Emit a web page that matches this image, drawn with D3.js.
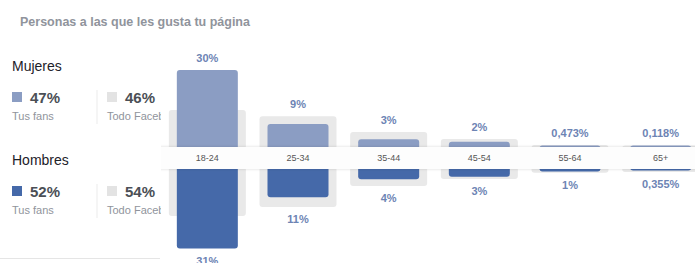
<!DOCTYPE html>
<html>
<head>
<meta charset="utf-8">
<script src="https://cdn.jsdelivr.net/npm/d3@7"></script>
<style>
  body { margin: 0; background: #fff; }
  text { font-family: "Liberation Sans", Arial, sans-serif; }
</style>
</head>
<body>
<div id="chart"></div>
<script>
var svgWidth = 695;
var svgHeight = 263;

// data
var ageGroups = ["18-24", "25-34", "35-44", "45-54", "55-64", "65+"];
var womenFans = [30, 9, 3, 2, 0.473, 0.118];
var menFans = [31, 11, 4, 3, 1, 0.355];
var womenAll = [14.4, 12, 5.8, 3.1, 0.8, 0.6];
var menAll = [18.3, 14.8, 6.6, 3.9, 1.5, 1.2];
var womenLabels = ["30%", "9%", "3%", "2%", "0,473%", "0,118%"];
var menLabels = ["31%", "11%", "4%", "3%", "1%", "0,355%"];
var summary = [
  { name: "Mujeres", fans: "47%", all: "46%" },
  { name: "Hombres", fans: "52%", all: "54%" }
];

var upColor = "#8b9dc3";
var downColor = "#4569a9";
var greyColor = "#e9e9e9";
var labelColor = "#6d84b4";

var bandTop = 147;
var bandBottom = 169;

var svg = d3.select("#chart").append("svg")
  .attr("width", svgWidth)
  .attr("height", svgHeight);

// title
svg.append("text")
  .attr("x", 20)
  .attr("y", 26)
  .attr("font-size", 12.5)
  .attr("font-weight", "bold")
  .attr("fill", "#90949c")
  .text("Personas a las que les gusta tu página");

// scales
var x = d3.scaleBand()
  .domain(ageGroups)
  .range([162, 706]);

var len = d3.scaleLinear()
  .domain([0, 30])
  .range([0, 77]);

var data = ageGroups.map(function(g, i) {
  return {
    age: g,
    wf: womenFans[i], mf: menFans[i],
    wa: womenAll[i], ma: menAll[i],
    wl: womenLabels[i], ml: menLabels[i]
  };
});

var chart = svg.append("g");

var greyW = 77, fanW = 61, r = 3;

// grey "todo facebook" bars, upper
chart.selectAll(".grey-up").data(data).enter().append("rect")
  .attr("x", d => x(d.age) + x.bandwidth() / 2 - greyW / 2)
  .attr("y", d => bandTop - len(d.wa))
  .attr("width", greyW)
  .attr("height", d => len(d.wa) + 4)
  .attr("rx", r)
  .attr("fill", greyColor);

// grey bars, lower
chart.selectAll(".grey-down").data(data).enter().append("rect")
  .attr("x", d => x(d.age) + x.bandwidth() / 2 - greyW / 2)
  .attr("y", bandBottom - 4)
  .attr("width", greyW)
  .attr("height", d => len(d.ma) + 4)
  .attr("rx", r)
  .attr("fill", greyColor);

// fan bars, women
chart.selectAll(".women").data(data).enter().append("rect")
  .attr("x", d => x(d.age) + x.bandwidth() / 2 - fanW / 2)
  .attr("y", d => bandTop - Math.max(len(d.wf), 1.5))
  .attr("width", fanW)
  .attr("height", d => Math.max(len(d.wf), 1.5) + 4)
  .attr("rx", r)
  .attr("fill", upColor);

// fan bars, men
chart.selectAll(".men").data(data).enter().append("rect")
  .attr("x", d => x(d.age) + x.bandwidth() / 2 - fanW / 2)
  .attr("y", bandBottom - 4)
  .attr("width", fanW)
  .attr("height", d => Math.max(len(d.mf), 1.5) + 4)
  .attr("rx", r)
  .attr("fill", downColor);

// percentage labels
chart.selectAll(".lab-up").data(data).enter().append("text")
  .attr("x", d => x(d.age) + x.bandwidth() / 2)
  .attr("y", d => bandTop - Math.max(len(d.wf), len(d.wa)) - 8)
  .attr("text-anchor", "middle")
  .attr("font-size", 11)
  .attr("font-weight", "bold")
  .attr("fill", labelColor)
  .text(d => d.wl);

chart.selectAll(".lab-down").data(data).enter().append("text")
  .attr("x", d => x(d.age) + x.bandwidth() / 2)
  .attr("y", d => bandBottom + Math.max(len(d.mf), len(d.ma)) + 16)
  .attr("text-anchor", "middle")
  .attr("font-size", 11)
  .attr("font-weight", "bold")
  .attr("fill", labelColor)
  .text(d => d.ml);

// center band with age labels
var defs = svg.append("defs");
var shadow = defs.append("filter").attr("id", "shadow")
  .attr("x", "-5%").attr("y", "-50%").attr("width", "110%").attr("height", "200%");
shadow.append("feDropShadow")
  .attr("dx", 0).attr("dy", 0).attr("stdDeviation", 1.5)
  .attr("flood-color", "#000").attr("flood-opacity", 0.15);

svg.append("rect")
  .attr("x", 158)
  .attr("y", bandTop)
  .attr("width", svgWidth - 156)
  .attr("height", bandBottom - bandTop)
  .attr("fill", "#fdfdfd")
  .attr("filter", "url(#shadow)");

var xAxis = svg.append("g")
  .attr("transform", `translate(0, ${(bandTop + bandBottom) / 2})`)
  .call(d3.axisBottom(x).tickSize(0).tickPadding(0));
xAxis.select(".domain").remove();
xAxis.selectAll("text")
  .attr("dy", "0.35em")
  .attr("y", 0)
  .attr("font-size", 9)
  .attr("font-family", "Liberation Sans, Arial, sans-serif")
  .attr("fill", "#555");

// left summary panel
var panel = svg.append("g");
defs.append("clipPath").attr("id", "panelClip")
  .append("rect").attr("x", 0).attr("y", 0).attr("width", 161).attr("height", svgHeight);
panel.attr("clip-path", "url(#panelClip)");

panel.append("rect")
  .attr("x", 0).attr("y", 40).attr("width", 161).attr("height", 220)
  .attr("fill", "#fff");

var rows = panel.selectAll(".row").data(summary).enter().append("g")
  .attr("transform", (d, i) => `translate(0, ${i * 94})`);

rows.append("text")
  .attr("x", 12).attr("y", 71)
  .attr("font-size", 14)
  .attr("fill", "#1d2129")
  .text(d => d.name);

rows.append("rect")
  .attr("x", 12).attr("y", 92).attr("width", 10).attr("height", 10)
  .attr("fill", (d, i) => i === 0 ? upColor : downColor);

rows.append("text")
  .attr("x", 30).attr("y", 102.5)
  .attr("font-size", 15)
  .attr("font-weight", "bold")
  .attr("fill", "#4b4f56")
  .text(d => d.fans);

rows.append("text")
  .attr("x", 12).attr("y", 120)
  .attr("font-size", 11)
  .attr("fill", "#90949c")
  .text("Tus fans");

rows.append("line")
  .attr("x1", 97).attr("x2", 97).attr("y1", 90).attr("y2", 124)
  .attr("stroke", "#ebebeb");

rows.append("rect")
  .attr("x", 107).attr("y", 92).attr("width", 10).attr("height", 10)
  .attr("fill", "#e3e3e3");

rows.append("text")
  .attr("x", 125).attr("y", 102.5)
  .attr("font-size", 15)
  .attr("font-weight", "bold")
  .attr("fill", "#4b4f56")
  .text(d => d.all);

rows.append("text")
  .attr("x", 107).attr("y", 120)
  .attr("font-size", 11)
  .attr("fill", "#90949c")
  .text("Todo Facebook");

panel.append("line")
  .attr("x1", 0).attr("x2", 160).attr("y1", 258.5).attr("y2", 258.5)
  .attr("stroke", "#e5e5e5");
</script>
</body>
</html>
